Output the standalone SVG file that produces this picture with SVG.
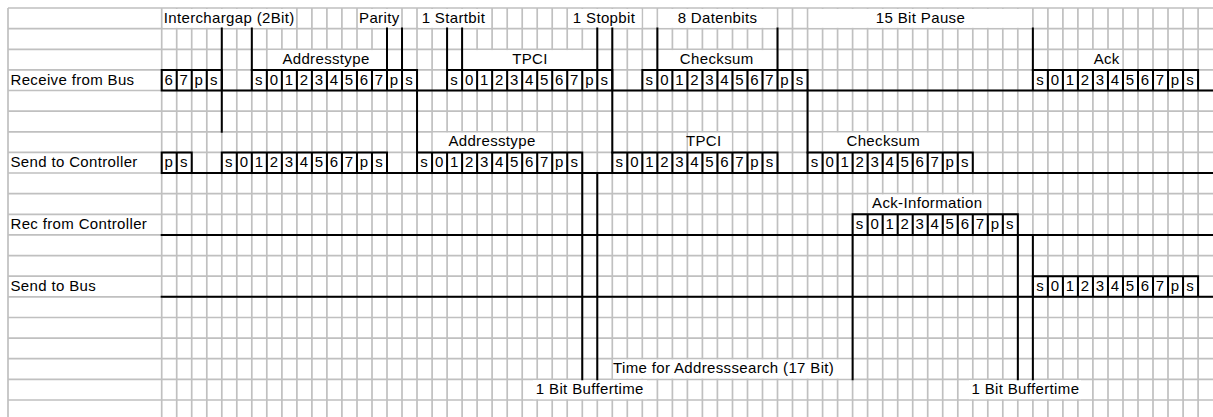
<svg xmlns="http://www.w3.org/2000/svg" width="1213" height="417" viewBox="0 0 1213 417">
<style>
.g{stroke:#c0c0c0;stroke-width:1.7;fill:none}
.k{stroke:#000;stroke-width:2;fill:none;stroke-linecap:square}
.bg{fill:#fff}
text{font-family:"Liberation Sans",Arial,sans-serif;font-size:15px;fill:#000}
.m{text-anchor:middle}
.l{letter-spacing:0.35px}
</style>
<rect width="1213" height="417" fill="#fff"/>
<g id="grid">
<path class="g" d="M8 8V417M161.7 8V417M176.7 8V417M191.7 8V417M206.8 8V417M221.8 8V417M236.8 8V417M251.8 8V417M266.8 8V417M281.9 8V417M296.9 8V417M311.9 8V417M326.9 8V417M341.9 8V417M357 8V417M372 8V417M387 8V417M402 8V417M417 8V417M432.1 8V417M447.1 8V417M462.1 8V417M477.1 8V417M492.1 8V417M507.2 8V417M522.2 8V417M537.2 8V417M552.2 8V417M567.2 8V417M582.3 8V417M597.3 8V417M612.3 8V417M627.3 8V417M642.3 8V417M657.4 8V417M672.4 8V417M687.4 8V417M702.4 8V417M717.4 8V417M732.5 8V417M747.5 8V417M762.5 8V417M777.5 8V417M792.5 8V417M807.6 8V417M822.6 8V417M837.6 8V417M852.6 8V417M867.6 8V417M882.7 8V417M897.7 8V417M912.7 8V417M927.7 8V417M942.7 8V417M957.8 8V417M972.8 8V417M987.8 8V417M1002.8 8V417M1017.8 8V417M1032.9 8V417M1047.9 8V417M1062.9 8V417M1077.9 8V417M1092.9 8V417M1108 8V417M1123 8V417M1138 8V417M1153 8V417M1168 8V417M1183.1 8V417M1198.1 8V417"/>
<path class="g" d="M8 8H1213M8 28.6H1213M8 49.3H1213M8 69.9H1213M8 90.5H1213M8 111.2H1213M8 131.8H1213M8 152.4H1213M8 173H1213M8 193.7H1213M8 214.3H1213M8 234.9H1213M8 255.6H1213M8 276.2H1213M8 296.8H1213M8 317.5H1213M8 338.1H1213M8 358.7H1213M8 379.3H1213M8 400H1213"/>
</g>
<g id="label-backgrounds">
<rect class="bg" x="163" y="9" width="132.5" height="18.8"/>
<rect class="bg" x="358.5" y="9" width="42" height="18.8"/>
<rect class="bg" x="418.5" y="9" width="72.5" height="18.8"/>
<rect class="bg" x="568.5" y="9" width="73" height="18.8"/>
<rect class="bg" x="658.5" y="9" width="118" height="18.8"/>
<rect class="bg" x="808.7" y="9" width="223.3" height="18.8"/>
<rect class="bg" x="268" y="50.1" width="118" height="19"/>
<rect class="bg" x="463.2" y="50.1" width="133" height="19"/>
<rect class="bg" x="658.4" y="50.1" width="118.1" height="19"/>
<rect class="bg" x="1078.7" y="50.1" width="43.5" height="19"/>
<rect class="bg" x="432.8" y="132.6" width="118.6" height="19"/>
<rect class="bg" x="688.2" y="132.6" width="43.5" height="19"/>
<rect class="bg" x="823.4" y="132.6" width="118.5" height="19"/>
<rect class="bg" x="868.4" y="194.5" width="118.6" height="19"/>
<rect class="bg" x="613.1" y="359.5" width="238.7" height="19"/>
<rect class="bg" x="533" y="380.1" width="114" height="19.1"/>
<rect class="bg" x="969" y="380.1" width="112" height="19.1"/>
</g>
<g id="row-labels">
<text class="l" x="10.5" y="84.5">Receive from Bus</text>
<text class="l" x="10.5" y="167">Send to Controller</text>
<text class="l" x="10.5" y="228.9">Rec from Controller</text>
<text class="l" x="10.5" y="290.8">Send to Bus</text>
</g>
<g id="receive-from-bus">
<path class="k" d="M161.7 90.5H1213M161.7 69.9h60.08M161.7 69.9v20.6m15.02-20.6v20.6m15.02-20.6v20.6m15.02-20.6v20.6m15.02-20.6v20.6M251.82 69.9h165.22M251.82 69.9v20.6m15.02-20.6v20.6m15.02-20.6v20.6m15.02-20.6v20.6m15.02-20.6v20.6m15.02-20.6v20.6m15.02-20.6v20.6m15.02-20.6v20.6m15.02-20.6v20.6m15.02-20.6v20.6m15.02-20.6v20.6m15.02-20.6v20.6M447.08 69.9h165.22M447.08 69.9v20.6m15.02-20.6v20.6m15.02-20.6v20.6m15.02-20.6v20.6m15.02-20.6v20.6m15.02-20.6v20.6m15.02-20.6v20.6m15.02-20.6v20.6m15.02-20.6v20.6m15.02-20.6v20.6m15.02-20.6v20.6m15.02-20.6v20.6M642.34 69.9h165.22M642.34 69.9v20.6m15.02-20.6v20.6m15.02-20.6v20.6m15.02-20.6v20.6m15.02-20.6v20.6m15.02-20.6v20.6m15.02-20.6v20.6m15.02-20.6v20.6m15.02-20.6v20.6m15.02-20.6v20.6m15.02-20.6v20.6m15.02-20.6v20.6M1032.86 69.9h165.22M1032.86 69.9v20.6m15.02-20.6v20.6m15.02-20.6v20.6m15.02-20.6v20.6m15.02-20.6v20.6m15.02-20.6v20.6m15.02-20.6v20.6m15.02-20.6v20.6m15.02-20.6v20.6m15.02-20.6v20.6m15.02-20.6v20.6m15.02-20.6v20.6"/>
<text class="m" x="168.7 183.7 198.7 213.8" y="84.5">67ps</text>
<text class="m" x="258.8 273.8 288.9 303.9 318.9 333.9 348.9 364 379 394 409" y="84.5">s01234567ps</text>
<text class="m" x="454.1 469.1 484.1 499.1 514.2 529.2 544.2 559.2 574.2 589.3 604.3" y="84.5">s01234567ps</text>
<text class="m" x="649.3 664.4 679.4 694.4 709.4 724.4 739.5 754.5 769.5 784.5 799.5" y="84.5">s01234567ps</text>
<text class="m" x="1039.9 1054.9 1069.9 1084.9 1099.9 1115 1130 1145 1160 1175 1190.1" y="84.5">s01234567ps</text>
</g>
<g id="send-to-controller">
<path class="k" d="M161.7 173H1213M161.7 152.4h30.04M161.7 152.4v20.6m15.02-20.6v20.6m15.02-20.6v20.6M221.78 152.4h165.22M221.78 152.4v20.6m15.02-20.6v20.6m15.02-20.6v20.6m15.02-20.6v20.6m15.02-20.6v20.6m15.02-20.6v20.6m15.02-20.6v20.6m15.02-20.6v20.6m15.02-20.6v20.6m15.02-20.6v20.6m15.02-20.6v20.6m15.02-20.6v20.6M417.04 152.4h165.22M417.04 152.4v20.6m15.02-20.6v20.6m15.02-20.6v20.6m15.02-20.6v20.6m15.02-20.6v20.6m15.02-20.6v20.6m15.02-20.6v20.6m15.02-20.6v20.6m15.02-20.6v20.6m15.02-20.6v20.6m15.02-20.6v20.6m15.02-20.6v20.6M612.3 152.4h165.22M612.3 152.4v20.6m15.02-20.6v20.6m15.02-20.6v20.6m15.02-20.6v20.6m15.02-20.6v20.6m15.02-20.6v20.6m15.02-20.6v20.6m15.02-20.6v20.6m15.02-20.6v20.6m15.02-20.6v20.6m15.02-20.6v20.6m15.02-20.6v20.6M807.56 152.4h165.22M807.56 152.4v20.6m15.02-20.6v20.6m15.02-20.6v20.6m15.02-20.6v20.6m15.02-20.6v20.6m15.02-20.6v20.6m15.02-20.6v20.6m15.02-20.6v20.6m15.02-20.6v20.6m15.02-20.6v20.6m15.02-20.6v20.6m15.02-20.6v20.6"/>
<text class="m" x="168.7 183.7" y="167">ps</text>
<text class="m" x="228.8 243.8 258.8 273.8 288.9 303.9 318.9 333.9 348.9 364 379" y="167">s01234567ps</text>
<text class="m" x="424 439.1 454.1 469.1 484.1 499.1 514.2 529.2 544.2 559.2 574.2" y="167">s01234567ps</text>
<text class="m" x="619.3 634.3 649.3 664.4 679.4 694.4 709.4 724.4 739.5 754.5 769.5" y="167">s01234567ps</text>
<text class="m" x="814.6 829.6 844.6 859.6 874.6 889.7 904.7 919.7 934.7 949.7 964.8" y="167">s01234567ps</text>
</g>
<g id="rec-from-controller">
<path class="k" d="M161.7 234.9H1213M852.62 214.3h165.22M852.62 214.3v20.6m15.02-20.6v20.6m15.02-20.6v20.6m15.02-20.6v20.6m15.02-20.6v20.6m15.02-20.6v20.6m15.02-20.6v20.6m15.02-20.6v20.6m15.02-20.6v20.6m15.02-20.6v20.6m15.02-20.6v20.6m15.02-20.6v20.6"/>
<text class="m" x="859.6 874.6 889.7 904.7 919.7 934.7 949.7 964.8 979.8 994.8 1009.8" y="228.9">s01234567ps</text>
</g>
<g id="send-to-bus">
<path class="k" d="M161.7 296.8H1213M1032.86 276.2h165.22M1032.86 276.2v20.6m15.02-20.6v20.6m15.02-20.6v20.6m15.02-20.6v20.6m15.02-20.6v20.6m15.02-20.6v20.6m15.02-20.6v20.6m15.02-20.6v20.6m15.02-20.6v20.6m15.02-20.6v20.6m15.02-20.6v20.6m15.02-20.6v20.6"/>
<text class="m" x="1039.9 1054.9 1069.9 1084.9 1099.9 1115 1130 1145 1160 1175 1190.1" y="290.8">s01234567ps</text>
</g>
<g id="connectors">
<path class="k" d="M221.78 28.6V131.8M251.82 28.6V69.9M387 28.6V69.9M402.02 28.6V69.9M417.04 90.5V152.4M447.08 28.6V69.9M462.1 28.6V69.9M597.28 28.6V69.9M612.3 28.6V152.4M657.36 28.6V69.9M777.52 28.6V69.9M807.56 90.5V152.4M1032.86 28.6V69.9M582.26 173V379.3M597.28 173V379.3M852.62 234.9V379.3M1017.84 234.9V379.3M1032.86 234.9V379.3"/>
</g>
<g id="annotations">
<text class="m l" x="229.2" y="22.6">Interchargap (2Bit)</text>
<text class="m l" x="379.3" y="22.6">Parity</text>
<text class="m l" x="453.4" y="22.6">1 Startbit</text>
<text class="m l" x="604" y="22.6">1 Stopbit</text>
<text class="m l" x="717.5" y="22.6">8 Datenbits</text>
<text class="m l" x="920.5" y="22.6">15 Bit Pause</text>
<text class="m l" x="326" y="63.9">Addresstype</text>
<text class="m l" x="530" y="63.9">TPCI</text>
<text class="m l" x="716.7" y="63.9">Checksum</text>
<text class="m l" x="1106.7" y="63.9">Ack</text>
<text class="m l" x="492" y="146.4">Addresstype</text>
<text class="m l" x="703.7" y="146.4">TPCI</text>
<text class="m l" x="883.3" y="146.4">Checksum</text>
<text class="m l" x="927.2" y="208.3">Ack-Information</text>
<text class="l" x="613" y="373.3">Time for Addresssearch (17 Bit)</text>
<text class="m l" x="589.8" y="394">1 Bit Buffertime</text>
<text class="m l" x="1025.4" y="394">1 Bit Buffertime</text>
</g>
</svg>
